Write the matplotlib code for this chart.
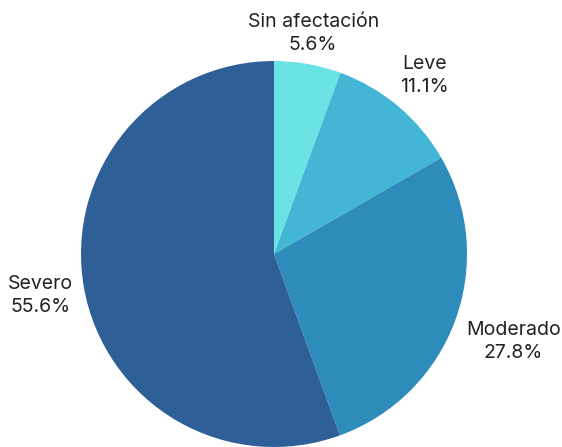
import numpy as np
import matplotlib
matplotlib.use("Agg")
import matplotlib.pyplot as plt

plt.rcParams['font.family'] = ['Inter', 'DejaVu Sans']

# categories and shares (%)
labels = ['Sin afectación', 'Leve', 'Moderado', 'Severo']
values = [5.6, 11.1, 27.8, 55.6]
colors = ['#6ae3e5', '#43b5d5', '#2e8cbb', '#2e5f96']

W, H = 562, 447
cx, cy, r = 274, 254, 193

fig = plt.figure(figsize=(W / 100, H / 100), dpi=100)
ax = fig.add_axes([(cx - r) / W, (H - cy - r) / H, 2 * r / W, 2 * r / H])

wedges, _ = ax.pie(values, colors=colors, startangle=90, counterclock=False,
                   radius=1, wedgeprops=dict(linewidth=0))
ax.set_xlim(-1, 1)
ax.set_ylim(-1, 1)
ax.set_aspect('equal')
ax.axis('off')

# label each slice outside the rim at its mid angle
dist = [1.16, 1.21, 1.32, 1.23]
for w, lab, v, d in zip(wedges, labels, values, dist):
    ang = np.deg2rad((w.theta1 + w.theta2) / 2)
    ax.text(d * np.cos(ang), d * np.sin(ang), f'{lab}\n{v}%',
            ha='center', va='center', fontsize=14, color='#222222',
            linespacing=1.35, clip_on=False)

fig.savefig('out.png', dpi=100)
